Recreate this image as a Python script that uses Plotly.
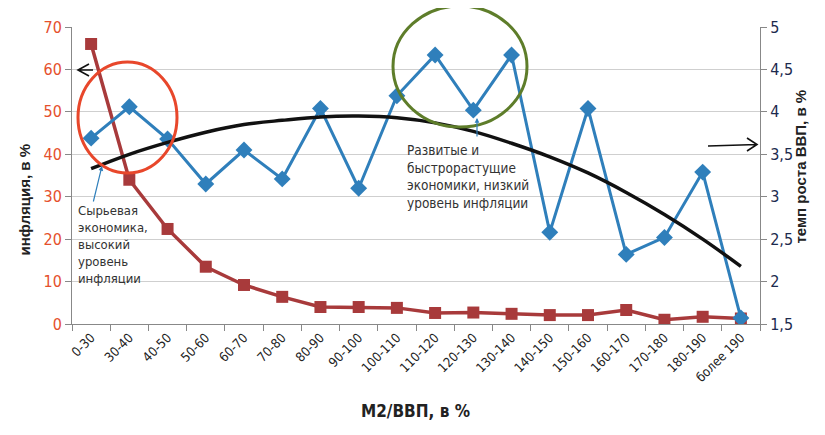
import plotly.graph_objects as go

categories = ["0-30", "30-40", "40-50", "50-60", "60-70", "70-80", "80-90", "90-100",
              "100-110", "110-120", "120-130", "130-140", "140-150", "150-160",
              "160-170", "170-180", "180-190", "более 190"]
inflation = [66, 34, 22.4, 13.5, 9.2, 6.4, 4.0, 4.0, 3.8, 2.6, 2.7, 2.4, 2.1, 2.1,
             3.3, 1.0, 1.7, 1.3]
gdp_growth = [3.69, 4.06, 3.68, 3.15, 3.55, 3.21, 4.04, 3.10, 4.19, 4.67, 4.02, 4.67,
              2.58, 4.04, 2.32, 2.52, 3.29, 1.57]
gdp_trend = [3.33, 3.50, 3.64, 3.76, 3.85, 3.90, 3.94, 3.95, 3.93, 3.87, 3.77, 3.63,
             3.47, 3.28, 3.05, 2.79, 2.50, 2.18]

# the page body has an 8px margin, so the figure is a bit smaller than the window
OFF = 8
W, H = 825 - OFF, 435 - OFF
L, R, T, B = 72, 760, 27, 324   # plot area in window pixels


def px(x):
    return (x - L) / (R - L)


def py(y):
    return (B - y) / (B - T)


NARROW = "'DejaVu Sans Condensed', 'Liberation Sans Narrow', sans-serif"
BOLD = "'Liberation Sans', Arial, sans-serif"

fig = go.Figure()
fig.add_trace(go.Scatter(x=categories, y=inflation, mode="lines+markers",
                         name="инфляция", yaxis="y",
                         line=dict(color="#a83a3b", width=3.5),
                         marker=dict(symbol="square", size=12, color="#a83a3b")))
fig.add_trace(go.Scatter(x=categories, y=gdp_growth, mode="lines+markers",
                         name="темп роста ВВП", yaxis="y2",
                         line=dict(color="#2f7fbb", width=3),
                         marker=dict(symbol="diamond", size=13, color="#2f7fbb")))
fig.add_trace(go.Scatter(x=categories, y=gdp_trend, mode="lines", yaxis="y2",
                         name="тренд", line=dict(color="#111111", width=3.5, shape="spline")))

shapes = [
    # red circle
    dict(type="circle", xref="paper", yref="paper",
         x0=px(78), x1=px(177), y0=py(173), y1=py(62),
         line=dict(color="#e8472b", width=3)),
    # green ellipse
    dict(type="circle", xref="paper", yref="paper",
         x0=px(393), x1=px(527), y0=py(127), y1=py(6),
         line=dict(color="#5e7d2a", width=3)),
    # left arrow
    dict(type="path", xref="paper", yref="paper",
         path=f"M {px(89)},{py(64)} L {px(78)},{py(70)} L {px(89)},{py(76)} "
              f"M {px(78)},{py(70)} L {px(93)},{py(70)}",
         line=dict(color="#111111", width=1.6)),
    # right arrow
    dict(type="path", xref="paper", yref="paper",
         path=f"M {px(708)},{py(146)} L {px(757)},{py(144.5)} "
              f"M {px(747)},{py(138)} L {px(757)},{py(144.5)} L {px(747)},{py(151)}",
         line=dict(color="#111111", width=1.6)),
]

annotations = [
    dict(xref="paper", yref="paper", x=px(76), y=py(201), xanchor="left", yanchor="top",
         align="left", showarrow=False,
         text="Сырьевая<br>экономика,<br>высокий<br>уровень<br>инфляции",
         font=dict(family=NARROW, size=13, color="#333333")),
    dict(xref="paper", yref="paper", x=px(102), y=py(166), ax=-9, ay=37,
         showarrow=True, arrowhead=2, arrowsize=0.8, arrowwidth=1.2, arrowcolor="#2f7fbb",
         text=""),
    dict(xref="paper", yref="paper", x=px(405), y=py(140), xanchor="left", yanchor="top",
         align="left", showarrow=False,
         text="Развитые и<br>быстрорастущие<br>экономики, низкий<br>уровень инфляции",
         font=dict(family=NARROW, size=13.5, color="#333333")),
    dict(xref="paper", yref="paper", x=px(477), y=py(118), ax=0, ay=20,
         showarrow=True, arrowhead=2, arrowsize=0.8, arrowwidth=1.2, arrowcolor="#2f7fbb",
         text=""),
    # axis titles
    dict(xref="paper", yref="paper", x=px(13), y=py(200), textangle=-90, showarrow=False,
         text="<b>инфляция, в %</b>", font=dict(family=BOLD, size=15, color="#222222")),
    dict(xref="paper", yref="paper", x=px(810), y=py(166), textangle=-90, showarrow=False,
         text="<b>темп роста ВВП, в %</b>", font=dict(family=BOLD, size=15, color="#222222")),
    dict(xref="paper", yref="paper", x=px(415), y=py(423), showarrow=False,
         text="<b>M2/ВВП, в %</b>", font=dict(family=NARROW, size=17, color="#222222")),
]

fig.update_layout(
    width=W, height=H,
    margin=dict(l=L - OFF, r=825 - R, t=T - OFF, b=435 - B, autoexpand=False),
    paper_bgcolor="white", plot_bgcolor="white",
    showlegend=False,
    separators=", ",
    shapes=shapes,
    annotations=annotations,
    xaxis=dict(type="category", range=[-0.5, len(categories) - 0.5],
               tickson="boundaries", ticks="outside", ticklen=6,
               tickcolor="#888888", showline=True, linecolor="#888888", linewidth=1,
               tickangle=-45, showgrid=False, automargin=False,
               tickfont=dict(family=NARROW, size=13, color="#222222")),
    yaxis=dict(range=[0, 70], dtick=10, ticks="outside", ticklen=6, tickcolor="#888888",
               showline=True, linecolor="#888888", linewidth=1, automargin=False,
               showgrid=True, gridcolor="#cfcfcf", gridwidth=1, zeroline=False,
               tickfont=dict(family=NARROW, size=16, color="#e5502c")),
    yaxis2=dict(range=[1.5, 5], dtick=0.5, overlaying="y", side="right",
                ticks="outside", ticklen=6, tickcolor="#888888", automargin=False,
                showline=True, linecolor="#888888", linewidth=1,
                showgrid=False, zeroline=False, tickformat=".1~f",
                tickfont=dict(family=NARROW, size=16, color="#1c2a4e")),
)

fig.write_html("out.html")
